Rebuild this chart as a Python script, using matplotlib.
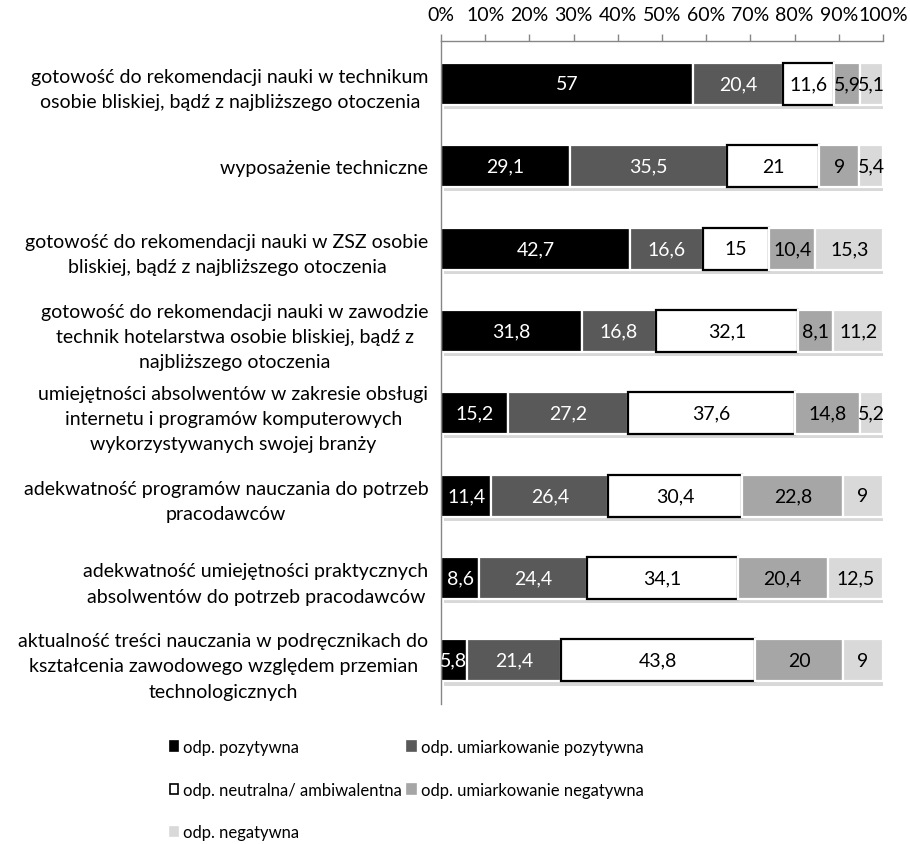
import matplotlib
matplotlib.use("Agg")
import numpy as np
import matplotlib.pyplot as plt
import matplotlib.patheffects as pe
from matplotlib.patches import Patch

plt.rcParams["font.family"] = ["Lato", "DejaVu Sans"]

# Categories (top to bottom)
categories = [
    "gotowość do rekomendacji nauki w technikum\nosobie bliskiej, bądź z najbliższego otoczenia",
    "wyposażenie techniczne",
    "gotowość do rekomendacji nauki w ZSZ osobie\nbliskiej, bądź z najbliższego otoczenia",
    "gotowość do rekomendacji nauki w zawodzie\ntechnik hotelarstwa osobie bliskiej, bądź z\nnajbliższego otoczenia",
    "umiejętności absolwentów w zakresie obsługi\ninternetu i programów komputerowych\nwykorzystywanych swojej branży",
    "adekwatność programów nauczania do potrzeb\npracodawców",
    "adekwatność umiejętności praktycznych\nabsolwentów do potrzeb pracodawców",
    "aktualność treści nauczania w podręcznikach do\nkształcenia zawodowego względem przemian\ntechnologicznych",
]

series_names = [
    "odp. pozytywna",
    "odp. umiarkowanie pozytywna",
    "odp. neutralna/ ambiwalentna",
    "odp. umiarkowanie negatywna",
    "odp. negatywna",
]

pozytywna = [57, 29.1, 42.7, 31.8, 15.2, 11.4, 8.6, 5.8]
umiark_pozytywna = [20.4, 35.5, 16.6, 16.8, 27.2, 26.4, 24.4, 21.4]
neutralna = [11.6, 21, 15, 32.1, 37.6, 30.4, 34.1, 43.8]
umiark_negatywna = [5.9, 9, 10.4, 8.1, 14.8, 22.8, 20.4, 20]
negatywna = [5.1, 5.4, 15.3, 11.2, 5.2, 9, 12.5, 9]

series = [pozytywna, umiark_pozytywna, neutralna, umiark_negatywna, negatywna]
face_colors = ["#000000", "#595959", "#ffffff", "#a6a6a6", "#d9d9d9"]
edge_colors = ["#ffffff", "#ffffff", "#000000", "#ffffff", "#ffffff"]
text_colors = ["white", "white", "black", "black", "black"]

FS = 14

fig = plt.figure(figsize=(9.1, 8.45), dpi=100)
ax = fig.add_axes([441 / 910, 1 - 705 / 845, 442 / 910, 663 / 845])

y = np.arange(len(categories))
shadow = [pe.SimplePatchShadow(offset=(2, -3), shadow_rgbFace="#808080", alpha=0.3), pe.Normal()]

left = np.zeros(len(categories))
for vals, fc, ec, tc in zip(series, face_colors, edge_colors, text_colors):
    vals = np.array(vals, dtype=float)
    bars = ax.barh(y, vals, left=left, height=0.51, color=fc, edgecolor=ec,
                   linewidth=1.6, zorder=2)
    for b in bars:
        b.set_path_effects(shadow)
    for yi, l, v in zip(y, left, vals):
        ax.text(l + v / 2, yi, f"{v:g}".replace(".", ","), ha="center", va="center",
                fontsize=FS, color=tc, zorder=3)
    left += vals

ax.set_xlim(0, 100)
ax.set_ylim(7.53, -0.52)

ax.xaxis.tick_top()
ax.set_xticks(np.arange(0, 101, 10))
ax.set_xticklabels([f"{t}%" for t in range(0, 101, 10)])
ax.tick_params(axis="x", direction="out", length=5, width=1, color="#868686",
               labelsize=FS, pad=8)
ax.set_yticks(y)
ax.set_yticklabels(categories, fontsize=FS, multialignment="center", linespacing=1.58)
ax.tick_params(axis="y", length=0, pad=9)

for side in ["right", "bottom"]:
    ax.spines[side].set_visible(False)
for side in ["top", "left"]:
    ax.spines[side].set_color("#868686")
    ax.spines[side].set_linewidth(1)

handles = [Patch(facecolor=fc, edgecolor=("black" if fc == "#ffffff" else fc), linewidth=1.2)
           for fc in face_colors]
order = [0, 2, 4, 1, 3]
fig.legend([handles[i] for i in order], [series_names[i] for i in order],
           loc="upper left", bbox_to_anchor=(170 / 910, 1 - 740 / 845),
           ncol=2, frameon=False, fontsize=12, handlelength=0.5, handleheight=0.5,
           handletextpad=0.3, columnspacing=0.3, labelspacing=1.6,
           borderpad=0, borderaxespad=0)

fig.savefig("out.png", dpi=100)
